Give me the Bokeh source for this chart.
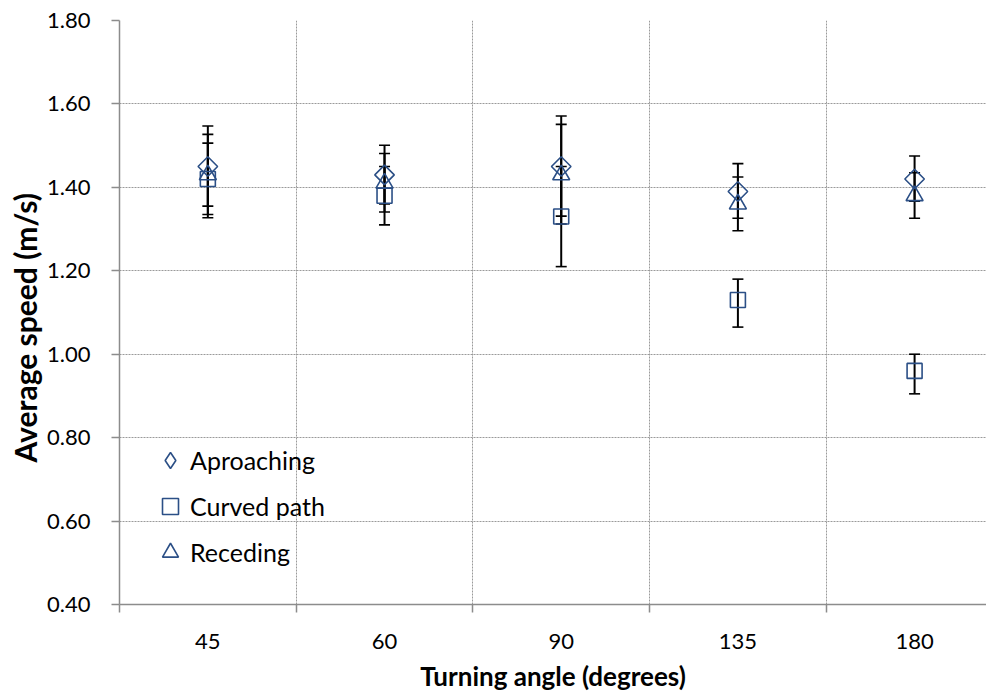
import math
from bokeh.plotting import figure
from bokeh.models import (Range1d, FixedTicker, NumeralTickFormatter, Whisker, TeeHead,
                          ColumnDataSource, Legend, LegendItem, Title)
from bokeh.embed import file_html
from bokeh.resources import INLINE

categories = ["45", "60", "90", "135", "180"]
y_ticks = [0.40, 0.60, 0.80, 1.00, 1.20, 1.40, 1.60, 1.80]

approach_mean = [1.45, 1.43, 1.45, 1.39, 1.42]
approach_upper = [1.547, 1.501, 1.571, 1.457, 1.475]
approach_lower = [1.355, 1.360, 1.331, 1.326, 1.367]

curved_mean = [1.42, 1.38, 1.33, 1.13, 0.96]
curved_upper = [1.506, 1.450, 1.450, 1.180, 1.000]
curved_lower = [1.335, 1.310, 1.210, 1.065, 0.905]

receding_mean = [1.43, 1.41, 1.43, 1.36, 1.38]
receding_upper = [1.527, 1.481, 1.551, 1.425, 1.435]
receding_lower = [1.327, 1.341, 1.312, 1.296, 1.326]

FONT = "Lato"
BLUE = "#2B4F86"
GRID = "#9a9a9a"
AXIS = "#8c8c8c"

x_pos = [i + 0.5 for i in range(len(categories))]

p = figure(width=986, height=694, x_range=Range1d(0, 4.907), y_range=Range1d(0.4, 1.8),
           output_backend="svg", toolbar_location=None,
           min_border_left=119, min_border_top=20, min_border_bottom=89, min_border_right=0)
p.outline_line_color = None
p.background_fill_color = "white"
p.border_fill_color = "white"

# x axis: labels at category centres, ticks at category boundaries
p.xaxis.ticker = FixedTicker(ticks=x_pos, minor_ticks=list(range(len(categories) + 1)))
p.xaxis.major_label_overrides = {xp: c for xp, c in zip(x_pos, categories)}
p.xaxis.major_tick_line_color = None
p.xaxis.minor_tick_line_color = AXIS
p.xaxis.minor_tick_line_width = 1.5
p.xaxis.minor_tick_out = 8
p.xaxis.minor_tick_in = 0
p.xaxis.axis_line_color = AXIS
p.xaxis.axis_line_width = 1.5
p.xaxis.major_label_text_font = FONT
p.xaxis.major_label_text_font_size = "22px"
p.xaxis.major_label_text_color = "black"
p.xaxis.major_label_standoff = 21
p.xaxis.axis_label = "Turning angle (degrees)"
p.xaxis.axis_label_text_font = FONT
p.xaxis.axis_label_text_font_style = "bold"
p.xaxis.axis_label_text_font_size = "26px"
p.xaxis.axis_label_text_color = "black"
p.xaxis.axis_label_standoff = 8

p.yaxis.ticker = FixedTicker(ticks=y_ticks, minor_ticks=[])
p.yaxis.formatter = NumeralTickFormatter(format="0.00")
p.yaxis.major_tick_line_color = AXIS
p.yaxis.major_tick_line_width = 1.5
p.yaxis.major_tick_out = 8
p.yaxis.major_tick_in = 0
p.yaxis.axis_line_color = AXIS
p.yaxis.axis_line_width = 1.5
p.yaxis.major_label_text_font = FONT
p.yaxis.major_label_text_font_size = "22px"
p.yaxis.major_label_text_color = "black"
p.yaxis.major_label_standoff = 21

y_title = Title(text="Average speed (m/s)", align="left", offset=142,
                text_font=FONT, text_font_style="bold", text_font_size="30px",
                text_color="black", standoff=3)
p.add_layout(y_title, "left")

p.ygrid.ticker = FixedTicker(ticks=y_ticks)
p.xgrid.ticker = FixedTicker(ticks=list(range(1, len(categories) + 1)))
for g in (p.xgrid, p.ygrid):
    g.grid_line_color = GRID
    g.grid_line_dash = "2 1"
    g.grid_line_width = 1

# name, mean, upper, lower, plot marker, size, angle, legend marker
series = [
    ("Aproaching", approach_mean, approach_upper, approach_lower, "square", 13.8, math.pi / 4, "diamond"),
    ("Curved path", curved_mean, curved_upper, curved_lower, "square", 15, 0.0, "square"),
    ("Receding", receding_mean, receding_upper, receding_lower, "triangle", 17, 0.0, "triangle"),
]

items = []
for name, mean, upper, lower, marker, size, ang, leg_marker in series:
    src = ColumnDataSource(dict(x=x_pos, y=mean, upper=upper, lower=lower))
    w = Whisker(base="x", upper="upper", lower="lower", source=src, dimension="height",
                line_color="black", line_width=2,
                upper_head=TeeHead(size=11, line_color="black", line_width=1.6),
                lower_head=TeeHead(size=11, line_color="black", line_width=1.6))
    p.add_layout(w)
    r = p.scatter("x", "y", source=src, marker=marker, size=size, angle=ang,
                  fill_color=None, line_color=BLUE, line_width=1.6)
    if leg_marker != marker:
        # legend swatches are drawn unrotated: use a non-drawing proxy renderer
        r = p.scatter(x=[x_pos[0]], y=[float("nan")], marker=leg_marker, size=size,
                      fill_color=None, line_color=BLUE, line_width=1.6)
    items.append(LegendItem(label=name, renderers=[r]))

legend = Legend(items=items, location=(31, 32), orientation="vertical",
                label_text_font=FONT, label_text_font_size="25px", label_text_color="black",
                glyph_width=40, glyph_height=40, label_height=40, spacing=6,
                label_standoff=-11, padding=0, margin=0,
                background_fill_alpha=0, border_line_color=None)
p.add_layout(legend)

open("out.html", "w").write(file_html(p, INLINE))
